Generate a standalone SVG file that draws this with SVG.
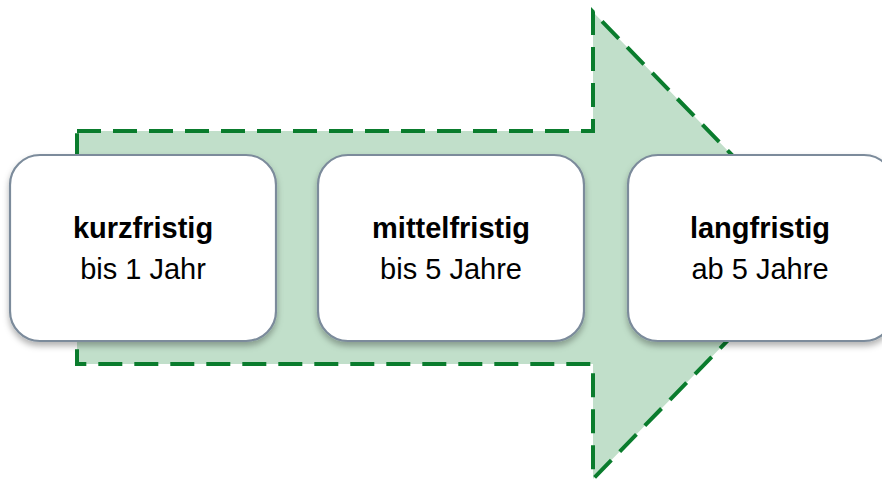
<svg xmlns="http://www.w3.org/2000/svg" width="882" height="484" viewBox="0 0 882 484">
<style>
.box{fill:#fff;stroke:#7b8b9b;stroke-width:2.2;filter:url(#sh)}
.t1{font-family:"Liberation Sans",Arial,sans-serif;font-weight:bold;font-size:29px;fill:#000;text-anchor:middle}
.t2{font-family:"Liberation Sans",Arial,sans-serif;font-size:29px;fill:#000;text-anchor:middle}
</style>
<defs>
<filter id="sh" x="-10%" y="-10%" width="120%" height="130%">
<feDropShadow dx="0" dy="4" stdDeviation="3" flood-color="#000" flood-opacity="0.3"/>
</filter>
</defs>
<g id="connectors">
<path d="M77,131 L593,131 L593,12 L820,245.5 L593,479 L593,364 L77,364 Z" fill="#c1dfca" stroke="#0a7c2d" stroke-width="4" stroke-dasharray="24,12"/>
</g>
<g id="n1">
<rect class="box" x="10" y="155" width="266" height="186" rx="30"/>
<text class="t1" x="143" y="238">kurzfristig</text>
<text class="t2" x="143" y="279">bis 1 Jahr</text>
</g>
<g id="n2">
<rect class="box" x="318" y="155" width="266" height="186" rx="30"/>
<text class="t1" x="451" y="238">mittelfristig</text>
<text class="t2" x="451" y="279">bis 5 Jahre</text>
</g>
<g id="n3">
<rect class="box" x="628" y="155" width="266" height="186" rx="30"/>
<text class="t1" x="760" y="238">langfristig</text>
<text class="t2" x="760" y="279">ab 5 Jahre</text>
</g>
</svg>
